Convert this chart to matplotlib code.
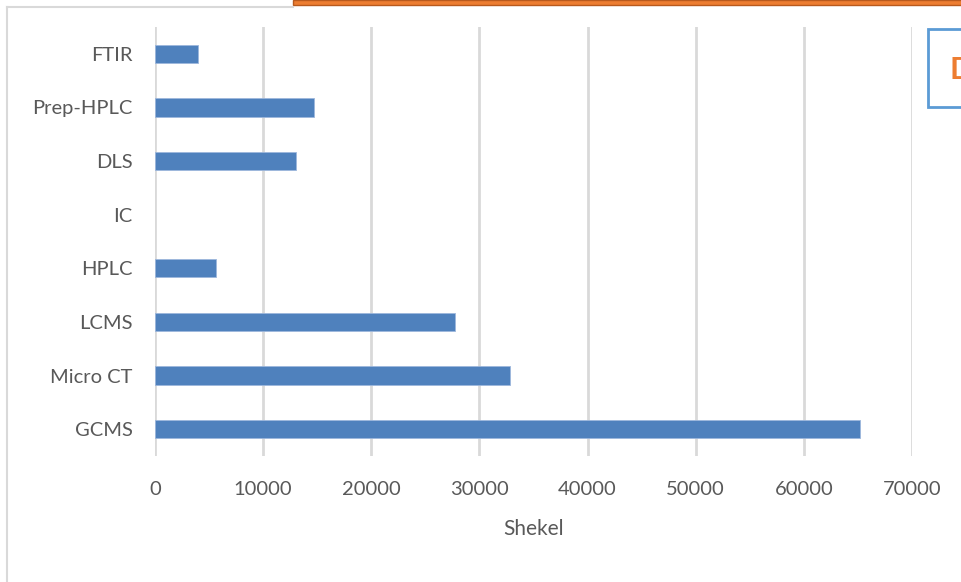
import matplotlib
matplotlib.use('Agg')
import matplotlib.pyplot as plt
from matplotlib.patches import Rectangle

# data (top to bottom in the picture)
instruments = ['FTIR', 'Prep-HPLC', 'DLS', 'IC', 'HPLC', 'LCMS', 'Micro CT', 'GCMS']
cost = [4000, 14700, 13000, 0, 5600, 27750, 32800, 65200]
xticks = [0, 10000, 20000, 30000, 40000, 50000, 60000, 70000]

plt.rcParams['font.family'] = ['Lato', 'DejaVu Sans']
grey = '#595959'

fig = plt.figure(figsize=(9.61, 5.82), dpi=100)
ax = fig.add_axes([155 / 961, 1 - 456 / 582, (912 - 155) / 961, (456 - 27) / 582])

pos = list(range(len(instruments)))[::-1]
edges = ['#9DB7DC' if c > 0 else 'none' for c in cost]
ax.barh(pos, cost, height=0.34, color='#4F81BD', edgecolor=edges, linewidth=0.6, zorder=3)

ax.set_xlim(0, 70000)
ax.set_ylim(-0.5, len(instruments) - 0.5)
ax.set_xticks(xticks)
ax.set_xticklabels([str(t) for t in xticks])
ax.set_yticks(pos)
ax.set_yticklabels(instruments)
ax.tick_params(axis='both', length=0, colors=grey, labelsize=14.5)
ax.tick_params(axis='x', pad=18)
ax.tick_params(axis='y', pad=16)
ax.grid(axis='x', color='#D9D9D9', linewidth=2, zorder=0)
for s in ax.spines.values():
    s.set_visible(False)
ax.set_xlabel('Shekel', color=grey, fontsize=15, labelpad=15)

# bits of the surrounding sheet: frame, orange title bar, cut-off box
fig.add_artist(plt.Line2D([7 / 961, 7 / 961], [0, 1 - 7 / 582], color='#D9D9D9', lw=1.5))
fig.add_artist(plt.Line2D([7 / 961, 293 / 961], [1 - 7 / 582, 1 - 7 / 582], color='#D9D9D9', lw=1.5))
fig.add_artist(Rectangle((293 / 961, 1 - 5 / 582), 1, 5 / 582, transform=fig.transFigure,
                         facecolor='#ED7D31', edgecolor='#B85A1E', lw=1))
fig.add_artist(Rectangle((928 / 961, 1 - 107 / 582), 0.2, 78 / 582, transform=fig.transFigure,
                         facecolor='white', edgecolor='#5B9BD5', lw=2))
fig.text(950 / 961, 1 - 70 / 582, 'D', color='#ED7D31', fontsize=22, fontweight='bold',
         va='center', ha='left')

fig.savefig('out.png', dpi=100)
